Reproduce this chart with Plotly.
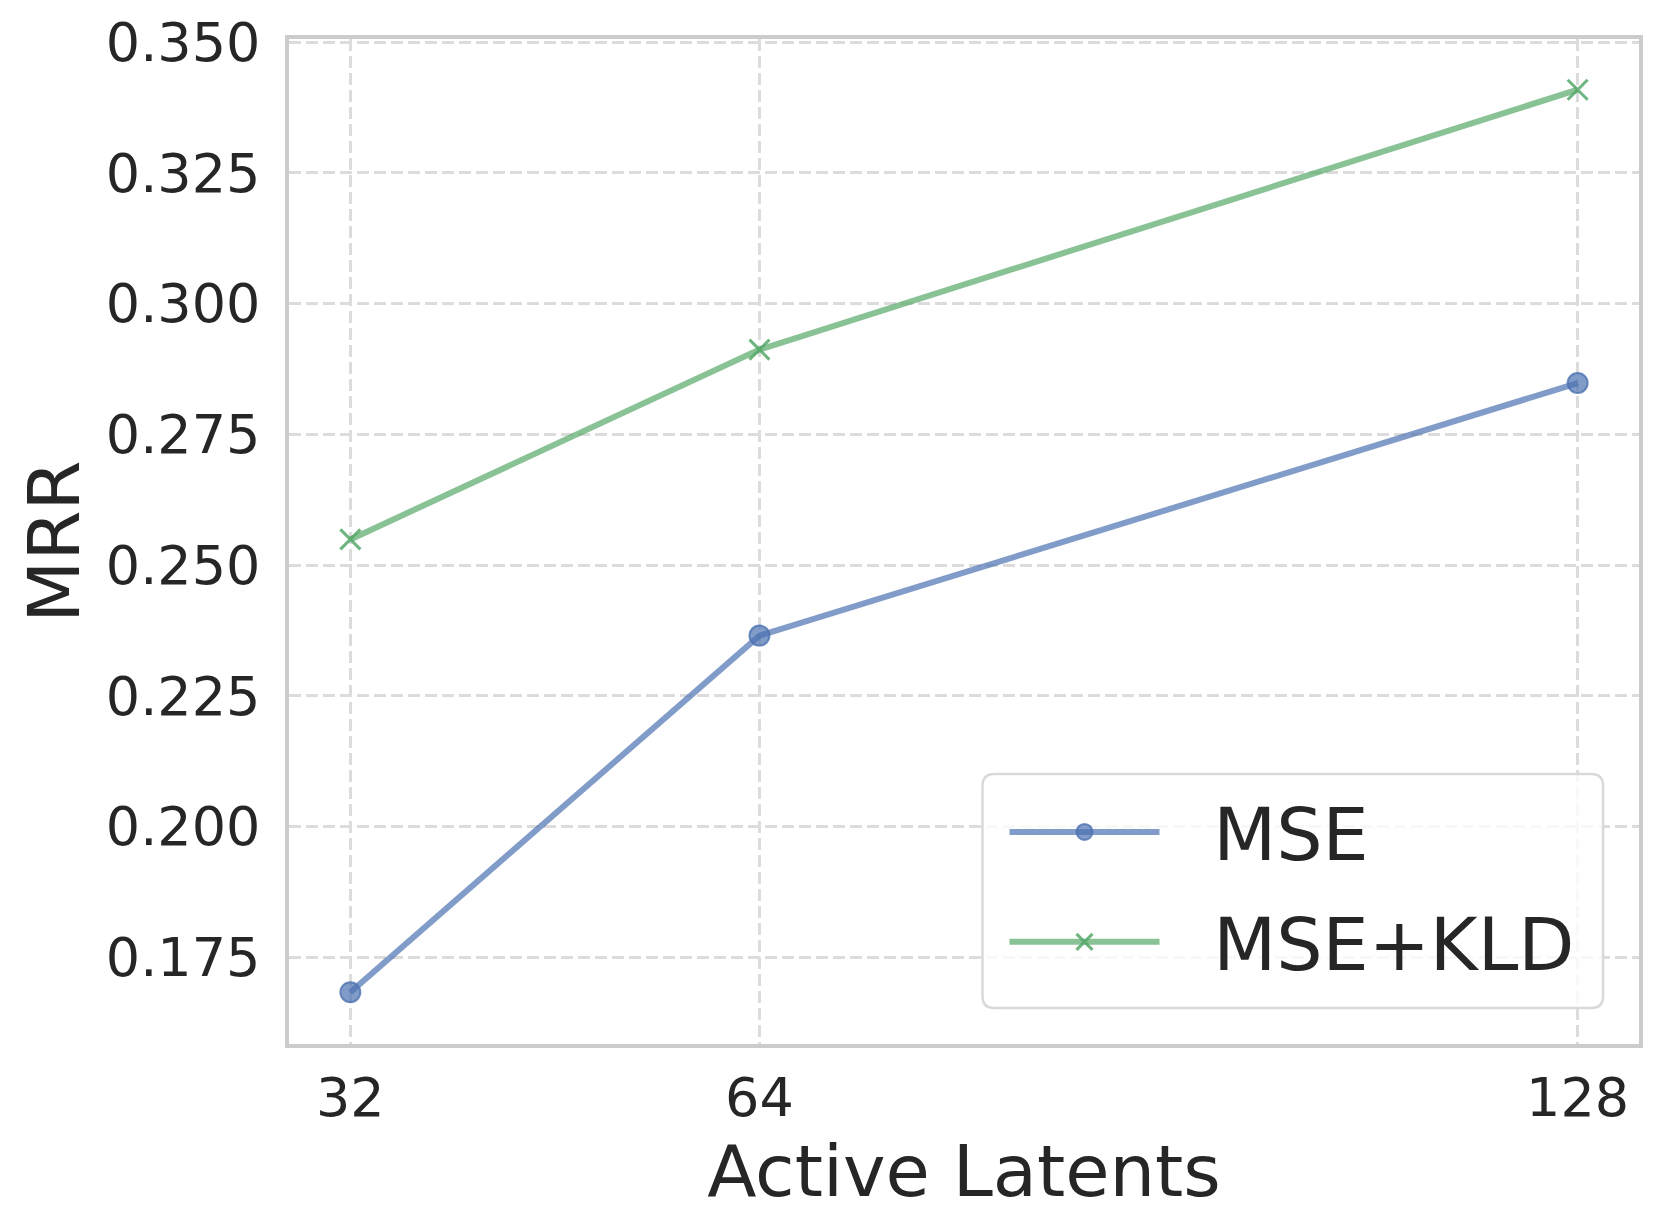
import plotly.graph_objects as go

latents = [32, 64, 128]
mse = [0.1683, 0.2365, 0.2848]
mse_kld = [0.2549, 0.2912, 0.3409]
y_ticks = [0.175, 0.200, 0.225, 0.250, 0.275, 0.300, 0.325, 0.350]
x_ticks = [32, 64, 128]
series_names = ["MSE", "MSE+KLD"]

FONT = "DejaVu Sans"
TXT = "#262626"
BLUE = "rgba(76,114,176,0.7)"
GREEN = "rgba(85,168,104,0.7)"
PAD = "\u2002\u2006"  # gap between legend line and label

fig = go.Figure()
fig.add_trace(go.Scatter(
    x=latents, y=mse, name=PAD + series_names[0], mode="lines+markers",
    legendgroup="a",
    line=dict(color=BLUE, width=6),
    marker=dict(symbol="circle", size=20, color=BLUE,
                line=dict(color="rgba(76,114,176,0.8)", width=2)),
))
fig.add_trace(go.Scatter(
    x=latents, y=mse_kld, name=PAD + series_names[1], mode="lines+markers",
    legendgroup="b",
    line=dict(color=GREEN, width=6),
    marker=dict(symbol="x-thin", size=20, color=GREEN,
                line=dict(color="rgba(85,168,104,0.85)", width=3)),
))

axis_common = dict(
    showline=True, mirror=True, linecolor="#cccccc", linewidth=3.5,
    showgrid=True, gridcolor="#dcdcdc", gridwidth=2.5, griddash="12px,5px",
    zeroline=False, ticks="", tickfont=dict(family=FONT, size=54, color=TXT),
)

fig.update_xaxes(
    range=[27.2, 132.8], tickvals=x_ticks, ticktext=[str(v) for v in x_ticks],
    ticklabelstandoff=3,
    title=dict(text="Active Latents", font=dict(family=FONT, size=72, color=TXT), standoff=19),
    **axis_common,
)
fig.update_yaxes(
    range=[0.1584, 0.3506], tickvals=y_ticks, ticktext=[f"{v:.3f}" for v in y_ticks],
    ticklabelstandoff=14,
    **axis_common,
)

W, H = 1351.0, 1005.0
L = 289

# y-axis title as rotated text placed in the left margin
fig.add_annotation(
    text="MRR", textangle=-90, showarrow=False,
    xref="paper", yref="paper", x=(53 - L) / W, y=0.5,
    xanchor="center", yanchor="middle",
    font=dict(family=FONT, size=72, color=TXT),
)

# legend frame (rounded, semi-transparent white like the reference)
x0, x1, y0, y1 = 0.5137, 0.9734, 0.0358, 0.2687
rx, ry = 12 / W, 12 / H
path = (f"M{x0+rx},{y0} L{x1-rx},{y0} Q{x1},{y0} {x1},{y0+ry} "
        f"L{x1},{y1-ry} Q{x1},{y1} {x1-rx},{y1} L{x0+rx},{y1} "
        f"Q{x0},{y1} {x0},{y1-ry} L{x0},{y0+ry} Q{x0},{y0} {x0+rx},{y0} Z")
fig.add_shape(type="path", path=path, xref="paper", yref="paper", layer="above",
              fillcolor="rgba(255,255,255,0.8)", line=dict(color="#d9d9d9", width=2.5))

fig.update_layout(
    width=1661, height=1231,
    margin=dict(l=L, r=22, t=39, b=187),
    plot_bgcolor="white", paper_bgcolor="white",
    font=dict(family=FONT, color=TXT),
    legend=dict(
        x=0.530, y=0.2647, xanchor="left", yanchor="top",
        font=dict(family=FONT, size=73, color=TXT),
        bgcolor="rgba(0,0,0,0)", borderwidth=0,
        itemwidth=150, tracegroupgap=12,
    ),
)

fig.write_html("out.html", config={"displayModeBar": False},
               post_script="document.body.style.margin='0px';")
